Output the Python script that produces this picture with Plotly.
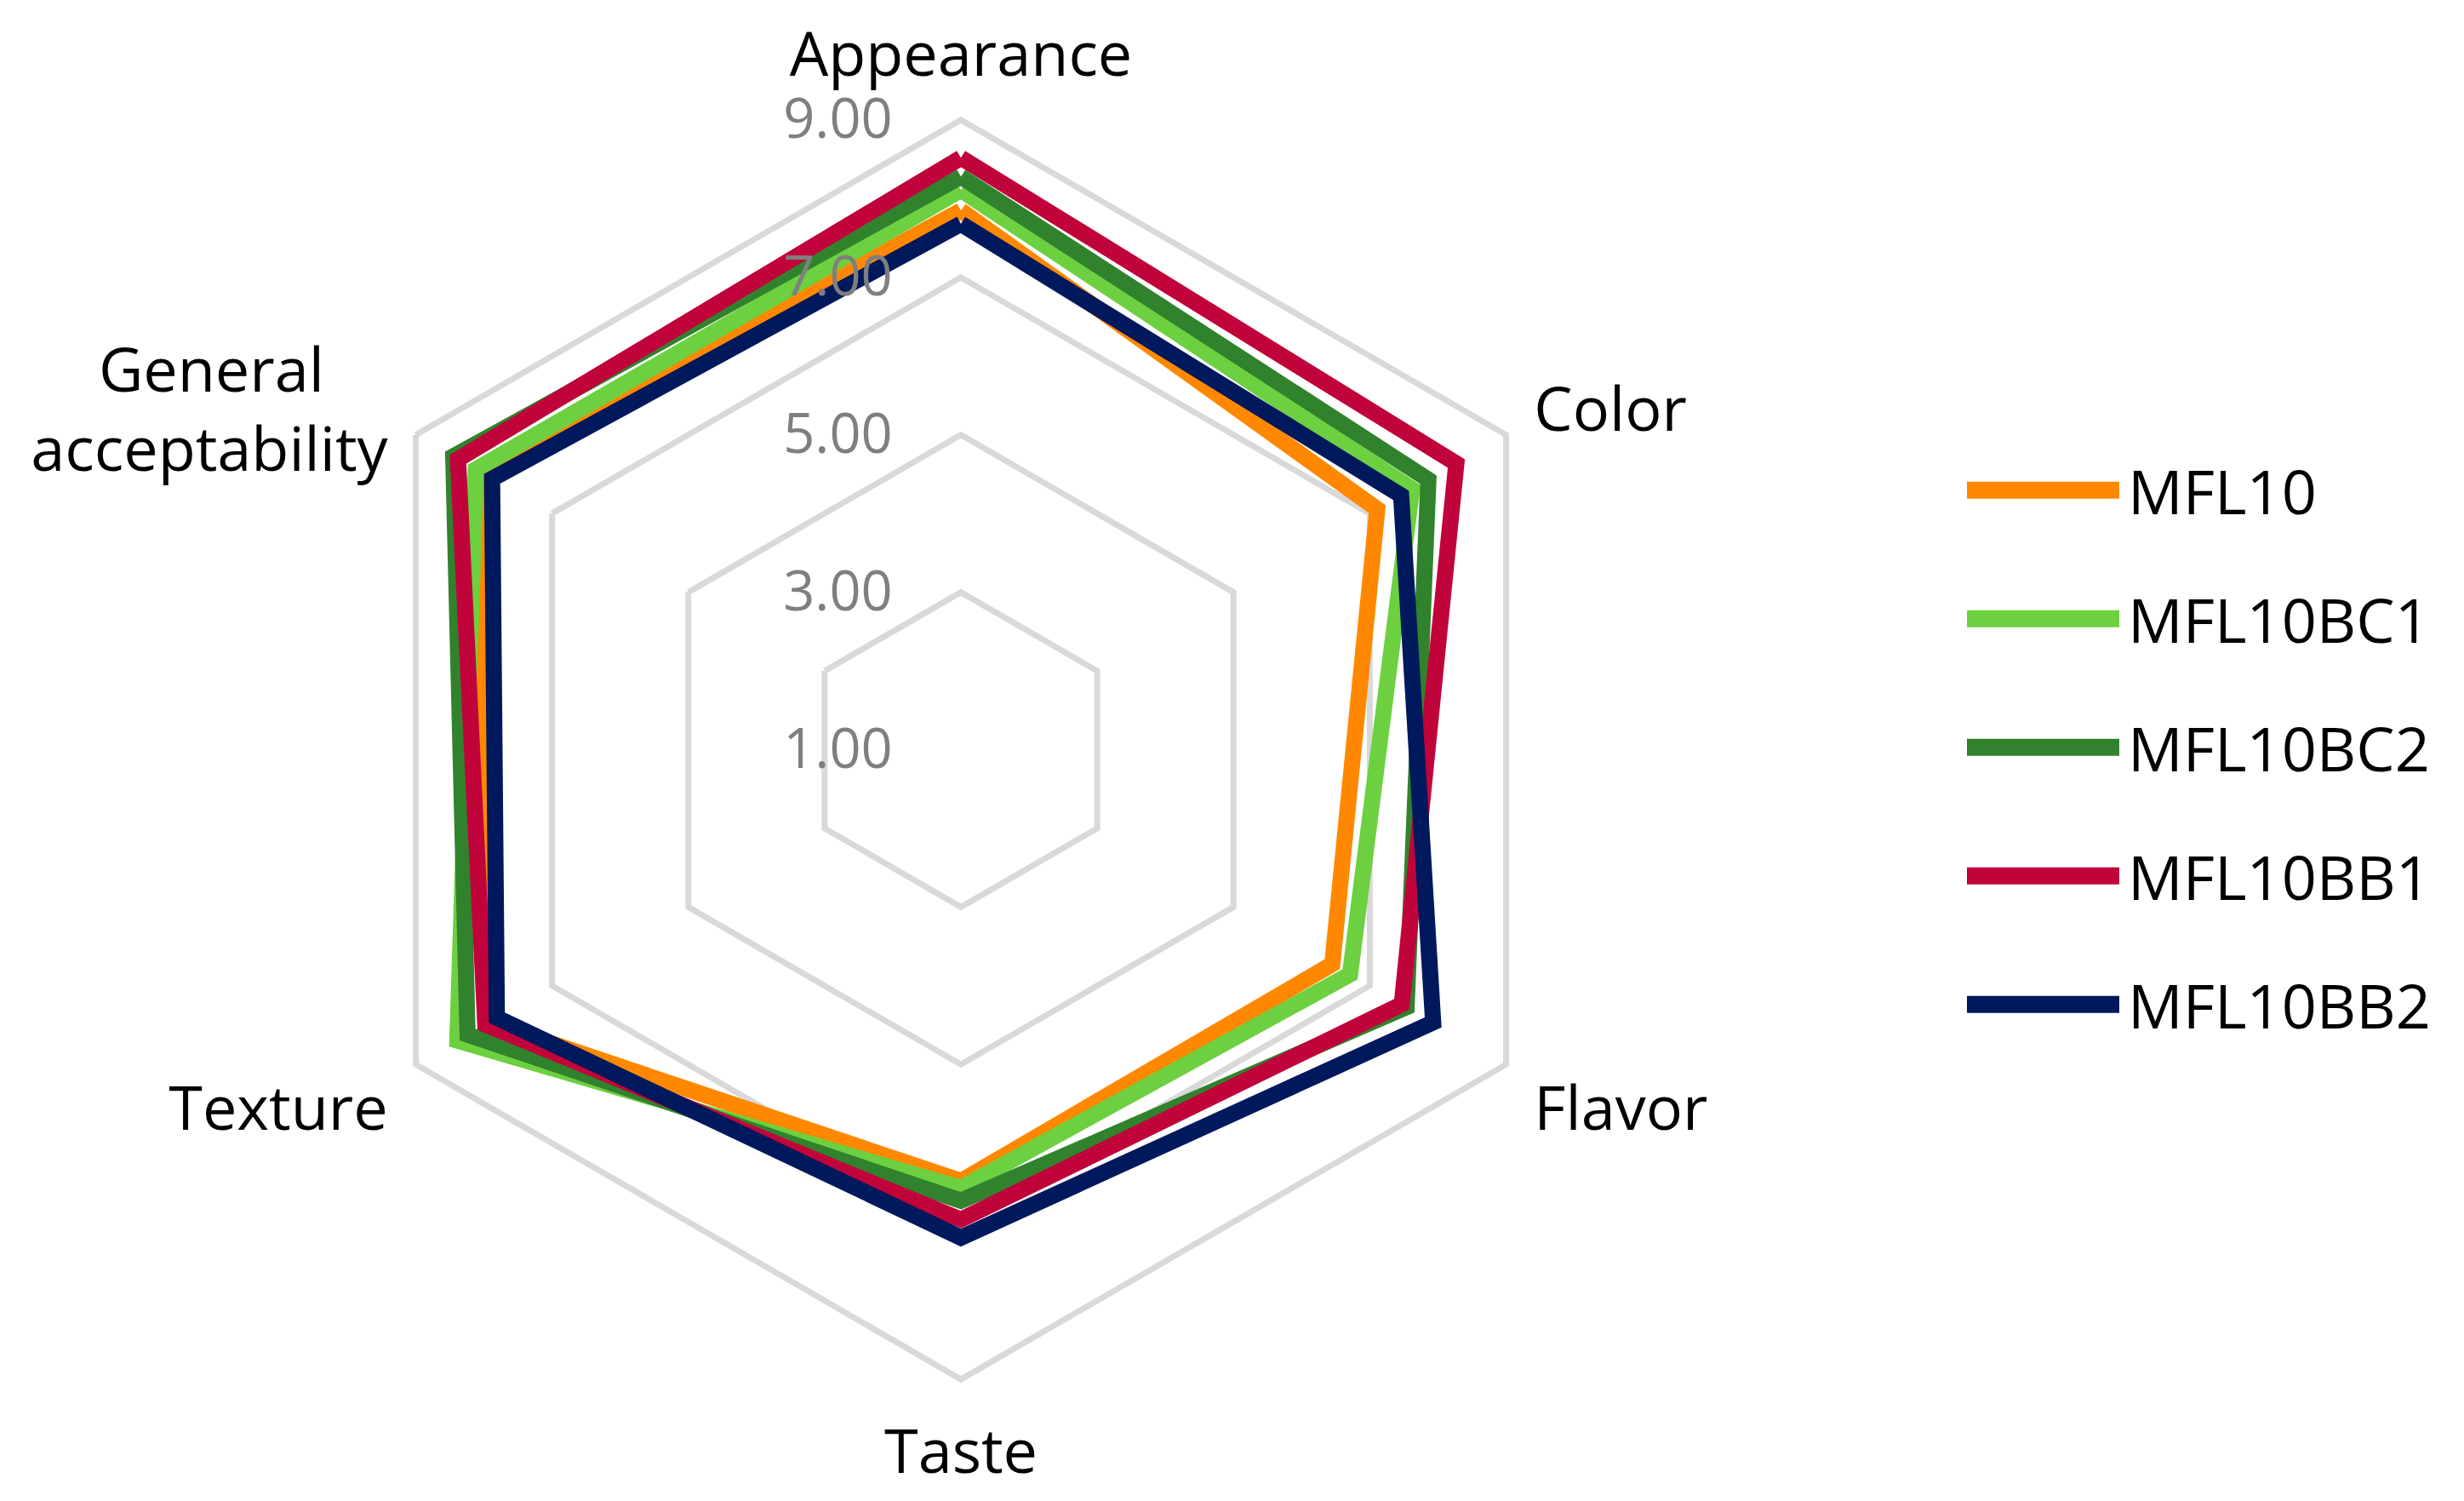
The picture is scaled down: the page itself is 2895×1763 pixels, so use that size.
import plotly.graph_objects as go

# 관능평가 항목 (radar axes)
categories = ["Appearance", "Color", "Flavor", "Taste", "Texture", "General acceptability"]
# axis labels as drawn (the last one wraps, centred over two lines)
category_labels = ["Appearance", "Color", "Flavor", "Taste", "Texture",
                   "<br>General\u00a0\u00a0\u00a0\u00a0<br>acceptability"]

# sample scores
mfl10 = [7.85, 7.11, 6.45, 6.48, 7.93, 8.04]
mfl10bc1 = [8.11, 7.62, 6.71, 6.57, 8.39, 8.12]
mfl10bc2 = [8.28, 7.86, 7.54, 6.73, 8.24, 8.45]
mfl10bb1 = [8.52, 8.27, 7.47, 6.97, 7.98, 8.38]
mfl10bb2 = [7.68, 7.46, 7.93, 7.20, 7.81, 7.88]

series_names = ["MFL10", "MFL10BC1", "MFL10BC2", "MFL10BB1", "MFL10BB2"]
series_values = [mfl10, mfl10bc1, mfl10bc2, mfl10bb1, mfl10bb2]
colors = ["#FF8800", "#6DD040", "#31822D", "#C1033B", "#00185C"]

radial_ticks = [1, 3, 5, 7, 9]

# page is 2895x1763, body has an 8px margin
OFF = 8
W, H = 2895 - 2 * OFF, 1763 - 2 * OFF
FONT = "Open Sans, Lato, sans-serif"


def px(x):
    return (x - OFF) / W


def py(y):
    return 1 - (y - OFF) / H


fig = go.Figure()

for name, vals, color in zip(series_names, series_values, colors):
    fig.add_trace(go.Scatterpolar(
        r=vals + vals[:1],
        theta=categories + categories[:1],
        name=name,
        mode="lines",
        line=dict(color=color, width=19),
        hoverinfo="skip",
        showlegend=False,
    ))

# legend drawn by hand so the sample lines can be as thick as the chart lines
shapes, annotations = [], []
for i, (name, color) in enumerate(zip(series_names, colors)):
    ly = 575.7 + 151 * i
    shapes.append(dict(
        type="line", xref="paper", yref="paper",
        x0=px(2311), x1=px(2490), y0=py(ly), y1=py(ly),
        line=dict(color=color, width=20),
    ))
    annotations.append(dict(
        xref="paper", yref="paper", x=px(2498), y=py(ly),
        xanchor="left", yanchor="middle", showarrow=False,
        text=name, font=dict(family=FONT, size=72, color="black"),
    ))

# polar area: centre and radius in page pixels
cx, cy, R = 1129, 880.5, 739.6
fig.update_layout(
    width=W,
    height=H,
    margin=dict(l=0, r=0, t=0, b=0),
    paper_bgcolor="white",
    font=dict(family=FONT, size=72, color="black"),
    shapes=shapes,
    annotations=annotations,
    showlegend=False,
    polar=dict(
        domain=dict(
            x=[px(cx - R), px(cx + R)],
            y=[py(cy + R), py(cy - R)],
        ),
        bgcolor="white",
        gridshape="linear",
        radialaxis=dict(
            range=[1, 9],
            tickvals=radial_ticks,
            ticktext=[f"{v:.2f}" for v in radial_ticks],
            angle=90,
            tickangle=90,
            side="counterclockwise",
            showline=False,
            ticks="outside",
            ticklen=57,
            tickcolor="rgba(0,0,0,0)",
            tickfont=dict(family=FONT, size=65, color="#7F7F7F"),
            showgrid=True,
            gridcolor="#D9D9D9",
            gridwidth=7,
        ),
        angularaxis=dict(
            rotation=90,
            direction="clockwise",
            tickmode="array",
            tickvals=categories,
            ticktext=category_labels,
            showgrid=False,
            showline=True,
            linecolor="#D9D9D9",
            linewidth=7,
            ticks="outside",
            ticklen=20,
            tickcolor="rgba(0,0,0,0)",
            tickfont=dict(family=FONT, size=72, color="black"),
        ),
    ),
)

fig.write_html("out.html")
